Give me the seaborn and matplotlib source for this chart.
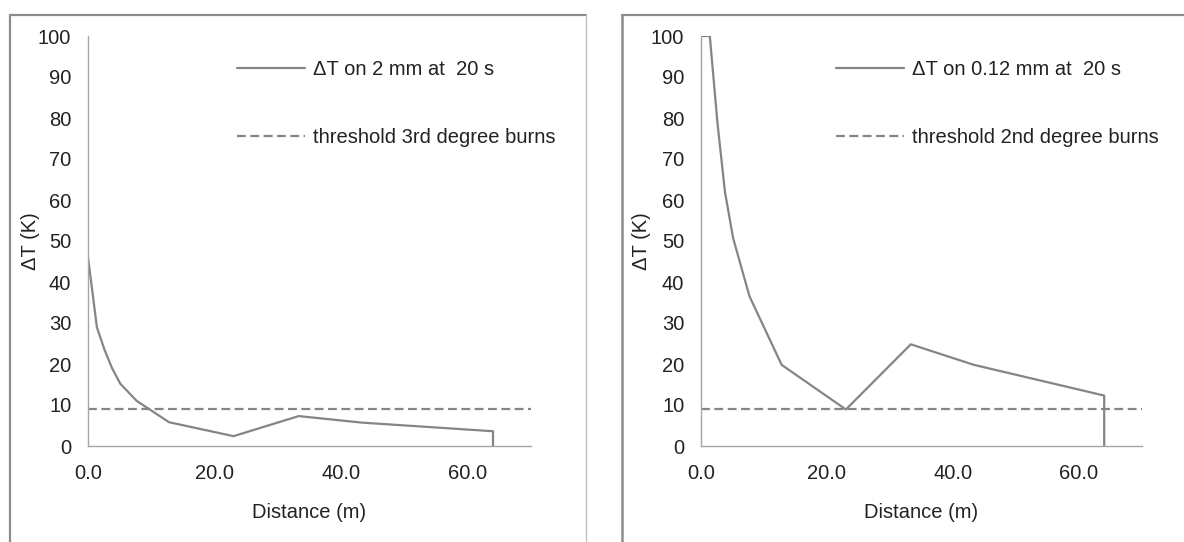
import matplotlib
matplotlib.use("Agg")
import matplotlib.pyplot as plt
import seaborn as sns
import pandas as pd
from matplotlib.lines import Line2D

sns.set_theme(style="white")
plt.rcParams["font.family"] = ["Liberation Sans", "DejaVu Sans"]

# -----------------------------
# DATA
# -----------------------------
distance = [0.0, 0.5, 1.4, 2.6, 3.8, 5.1, 7.7, 12.8, 23.0, 33.3, 43.3, 64.0, 64.0]
dt_2mm = [46.0, 40.0, 29.0, 23.5, 19.0, 15.2, 11.0, 5.8, 2.4, 7.3, 5.7, 3.6, 0.0]
dt_012mm = [100.0, 100.0, 100.0, 79.0, 62.0, 50.7, 36.5, 19.8, 8.9, 24.8, 19.8, 12.3, 0.0]

threshold_x = [0.0, 70.0]
threshold_3rd = [9.0, 9.0]
threshold_2nd = [9.0, 9.0]

panels = [
    ("ΔT on 2 mm at  20 s", dt_2mm, "threshold 3rd degree burns", threshold_3rd),
    ("ΔT on 0.12 mm at  20 s", dt_012mm, "threshold 2nd degree burns", threshold_2nd),
]

x_ticks = [0, 20, 40, 60]
x_tick_labels = ["0.0", "20.0", "40.0", "60.0"]
y_ticks = list(range(0, 101, 10))

# -----------------------------
# FIGURE
# -----------------------------
W, H = 1184, 542
fig = plt.figure(figsize=(W / 100, H / 100), dpi=100)

line_col = "#858585"
axis_col = "#a6a6a6"
text_col = "#222222"
fs = 14.5

# panel frames (pixel coords -> figure fraction)
def frame_line(xs, ys, **kw):
    fig.add_artist(Line2D([x / W for x in xs], [1 - y / H for y in ys],
                          transform=fig.transFigure, **kw))

frame_line([9.5, 9.5], [15, H], color="#8c8c8c", lw=1.6)
frame_line([9.5, 586], [15, 15], color="#8c8c8c", lw=1.6)
frame_line([586, 586], [15, H], color="#bdbdbd", lw=0.9)
frame_line([621.5, 621.5], [15, H], color="#8c8c8c", lw=1.8)
frame_line([621.5, W], [15, 15], color="#8c8c8c", lw=1.6)

axes_px = [(88, 36, 531, 446), (701, 36, 1142, 446)]
legend_x = [0.336, 0.306]
ylabel_x = [-0.108, -0.113]

for (curve_label, curve, thr_label, thr), (x0, y0, x1, y1), lx, ylx in zip(
        panels, axes_px, legend_x, ylabel_x):
    ax = fig.add_axes([x0 / W, 1 - y1 / H, (x1 - x0) / W, (y1 - y0) / H])
    df = pd.DataFrame({"Distance": distance, "dT": curve})
    sns.lineplot(data=df, x="Distance", y="dT", sort=False, estimator=None,
                 color=line_col, lw=1.6, ax=ax, label=curve_label)
    sns.lineplot(x=threshold_x, y=thr, color=line_col, lw=1.6, ax=ax,
                 dashes=False, label=thr_label, linestyle=(0, (4.0, 2.0)))

    ax.set_xlim(0, 70)
    ax.set_ylim(0, 100)
    ax.set_xticks(x_ticks)
    ax.set_xticklabels(x_tick_labels)
    ax.set_yticks(y_ticks)
    ax.tick_params(axis="both", direction="in", length=5, width=0.9,
                   color=axis_col, labelsize=fs, labelcolor=text_col)
    ax.tick_params(axis="y", pad=12)
    ax.tick_params(axis="x", pad=13)
    for s in ["top", "right"]:
        ax.spines[s].set_visible(False)
    for s in ["left", "bottom"]:
        ax.spines[s].set_color(axis_col)
        ax.spines[s].set_linewidth(1.0)

    ax.set_xlabel("Distance (m)", fontsize=fs, color=text_col, labelpad=14)
    ax.set_ylabel("ΔT (K)", fontsize=fs, color=text_col)
    ax.yaxis.set_label_coords(ylx, 0.5)

    ax.legend(loc="upper left", bbox_to_anchor=(lx, 0.942), frameon=False,
              fontsize=fs, handlelength=3.4, handletextpad=0.4,
              labelspacing=2.45, borderaxespad=0, borderpad=0,
              labelcolor=text_col)

fig.savefig("out.png", dpi=100)
plt.close(fig)
